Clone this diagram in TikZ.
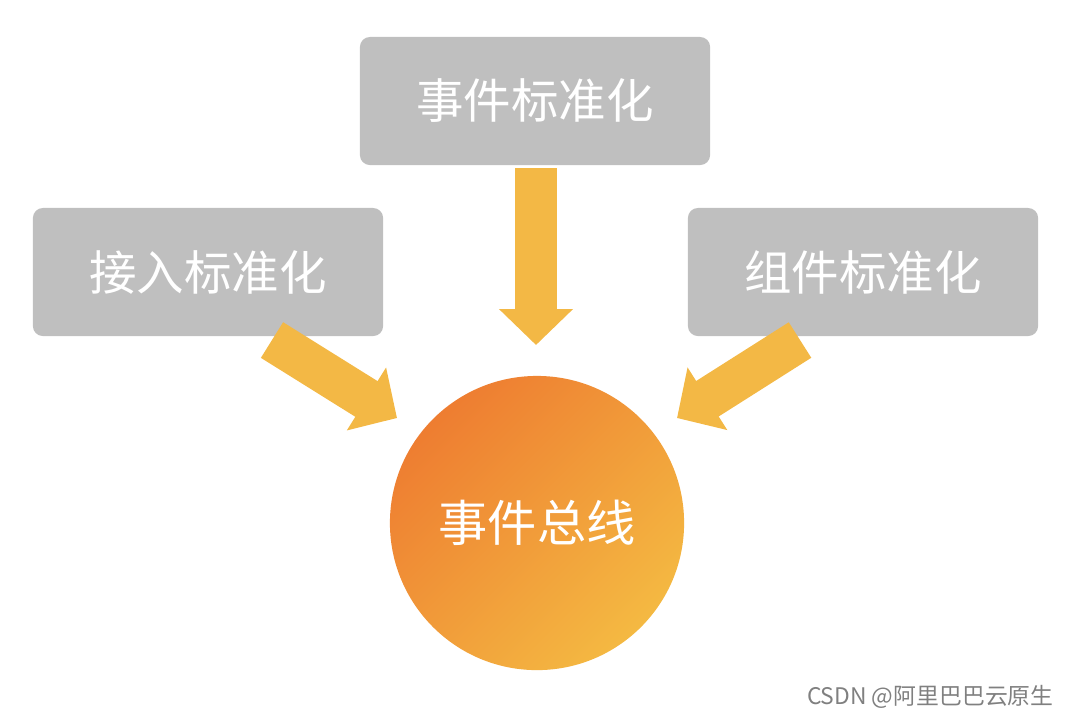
\documentclass[tikz,border=0pt]{standalone}
\usepackage{fontspec}
\setmainfont{Noto Sans CJK SC}
\usetikzlibrary{arrows.meta}
\definecolor{boxgray}{HTML}{BFBFBF}
\definecolor{arrowgold}{HTML}{F3B845}
\definecolor{busdark}{HTML}{EE7D31}
\definecolor{buslight}{HTML}{F4B942}
\tikzset{
  stdbox/.style={fill=boxgray,rounded corners=0.1cm,minimum width=3.5cm,minimum height=1.28cm,text=white,font=\fontsize{13.5}{16}\selectfont},
  fatarrow/.style={arrowgold,line width=0.42cm,-{Triangle[width=0.72cm,length=0.36cm]}}
}
\begin{document}
\begin{tikzpicture}[x=0.01cm,y=-0.01cm]
        \useasboundingbox (0,0) rectangle (1080,717);

        \node[stdbox] (event) at (535,101) {事件标准化};
        \node[stdbox] (access) at (208,272) {接入标准化};
        \node[stdbox] (comp) at (863,272) {组件标准化};

        \node[circle,minimum size=2.94cm,shading=axis,top color=busdark,bottom color=buslight,shading angle=45,
              text=white,font=\fontsize{14}{16}\selectfont] (bus) at (537,523) {事件总线};

        \coordinate (eventtip) at (536,345);
        \coordinate (accesstip) at (397,418);
        \coordinate (comptip) at (677,418);
        \coordinate (eventtail) at (536,168);
        \coordinate (accesstail) at (272,340);
        \coordinate (comptail) at (800,340);

        \draw[fatarrow] (eventtail) -- (eventtip);
        \draw[fatarrow] (accesstail) -- (accesstip);
        \draw[fatarrow] (comptail) -- (comptip);

        \node[text=gray,font=\fontsize{6.5}{8}\selectfont,anchor=east] (mark) at (1066,697) {CSDN @阿里巴巴云原生};
\end{tikzpicture}
\end{document}
